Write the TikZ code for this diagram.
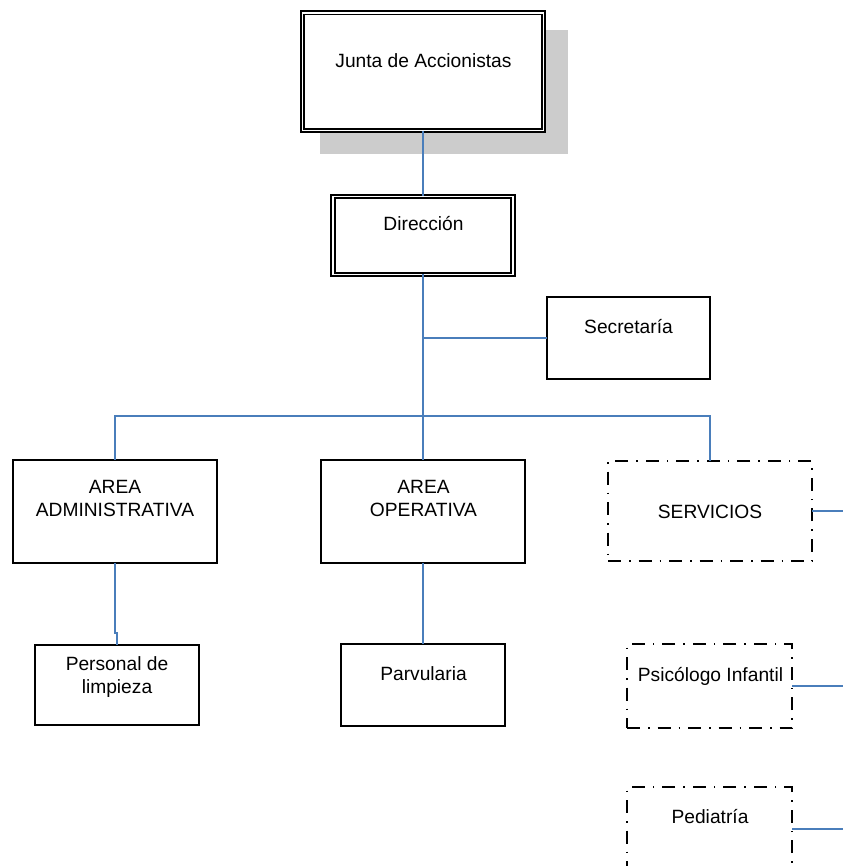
\documentclass[tikz,border=0pt]{standalone}
\usepackage{fontspec}
\setmainfont{Liberation Sans}
\definecolor{linkblue}{HTML}{4A7EBB}
\definecolor{shadowgray}{HTML}{CCCCCC}
\newcommand\orgbox[6]{\node[#6, anchor=north west, minimum width={#4pt-#2pt}, minimum height={#5pt-#3pt}] (#1) at (#2,#3) {};}
\tikzset{
  plainbox/.style={draw=black, line width=1.3pt, fill=white, inner sep=0pt, outer sep=0pt},
  dblbox/.style={draw=black, line width=1.7pt, double=white, double distance=1.8pt, inner sep=0pt, outer sep=0pt},
  dashbox/.style={draw=black, line width=1.5pt, dash pattern=on 13pt off 8pt on 1.5pt off 8pt, inner sep=0pt, outer sep=0pt},
  txt/.style={inner sep=0pt, align=center, font=\fontsize{19.2}{23}\selectfont},
  link/.style={draw=linkblue, line width=1.3pt},
}
\begin{document}
\begin{tikzpicture}[x=1pt, y=-1pt]
\useasboundingbox (0,0) rectangle (843,866);
\clip (0,0) rectangle (843,866);
\coordinate (edge) at (843,0);
% shadow of top box
\fill[shadowgray] (320,30) rectangle (568,154);
% boxes
\orgbox{junta}{302.5}{12.7}{543.5}{130.6}{dblbox, fill=white}
\orgbox{dir}{333}{196.5}{513}{274.5}{dblbox, fill=white}
\orgbox{sec}{547}{297}{710}{379}{plainbox}
\orgbox{admin}{13}{460}{217}{563}{plainbox}
\orgbox{oper}{321}{460}{525}{563}{plainbox}
\orgbox{serv}{608}{461}{812}{561}{dashbox}
\orgbox{pers}{35}{645}{199}{725}{plainbox}
\orgbox{parv}{341}{644}{505}{726}{plainbox}
\orgbox{psic}{627}{644}{792}{728}{dashbox}
\orgbox{ped}{627}{787}{792}{871}{dashbox}
% texts
\node[txt, anchor=base] (juntaT) at (423.5,68) {Junta de Accionistas};
\node[txt, anchor=base] (dirT) at (423.5,231) {Dirección};
\node[txt, anchor=base] (secT) at (628.5,333) {Secretaría};
\node[txt, anchor=north] (adminT) at (115,480.3) {AREA\\ADMINISTRATIVA};
\node[txt, anchor=north] (operT) at (423.5,480.3) {AREA\\OPERATIVA};
\node[txt, anchor=base] (servT) at (710,518) {SERVICIOS};
\node[txt, anchor=north] (persT) at (117,656) {Personal de\\limpieza};
\node[txt, anchor=base] (parvT) at (423.5,680) {Parvularia};
\node[txt, anchor=base] (psicT) at (710.5,681) {Psicólogo Infantil};
\node[txt, anchor=base] (pedT) at (710,823) {Pediatría};
% connectors
\coordinate (bar) at (423,416);
\draw[link] (junta.south) -- (dir.north);
\draw[link] (dir.south) -- (bar);
\draw[link] (sec.west) -- (sec.west -| bar);
\draw[link] (admin.north) |- (bar) -| (serv.north);
\draw[link] (bar) -- (oper.north);
\draw[link] (admin.south) -- ++(0,70) -| (pers.north);
\draw[link] (oper.south) -- (parv.north);
\draw[link] (serv.east) -- (serv.east -| edge);
\draw[link] (psic.east) -- (psic.east -| edge);
\draw[link] (ped.east) -- (ped.east -| edge);
\end{tikzpicture}
\end{document}
